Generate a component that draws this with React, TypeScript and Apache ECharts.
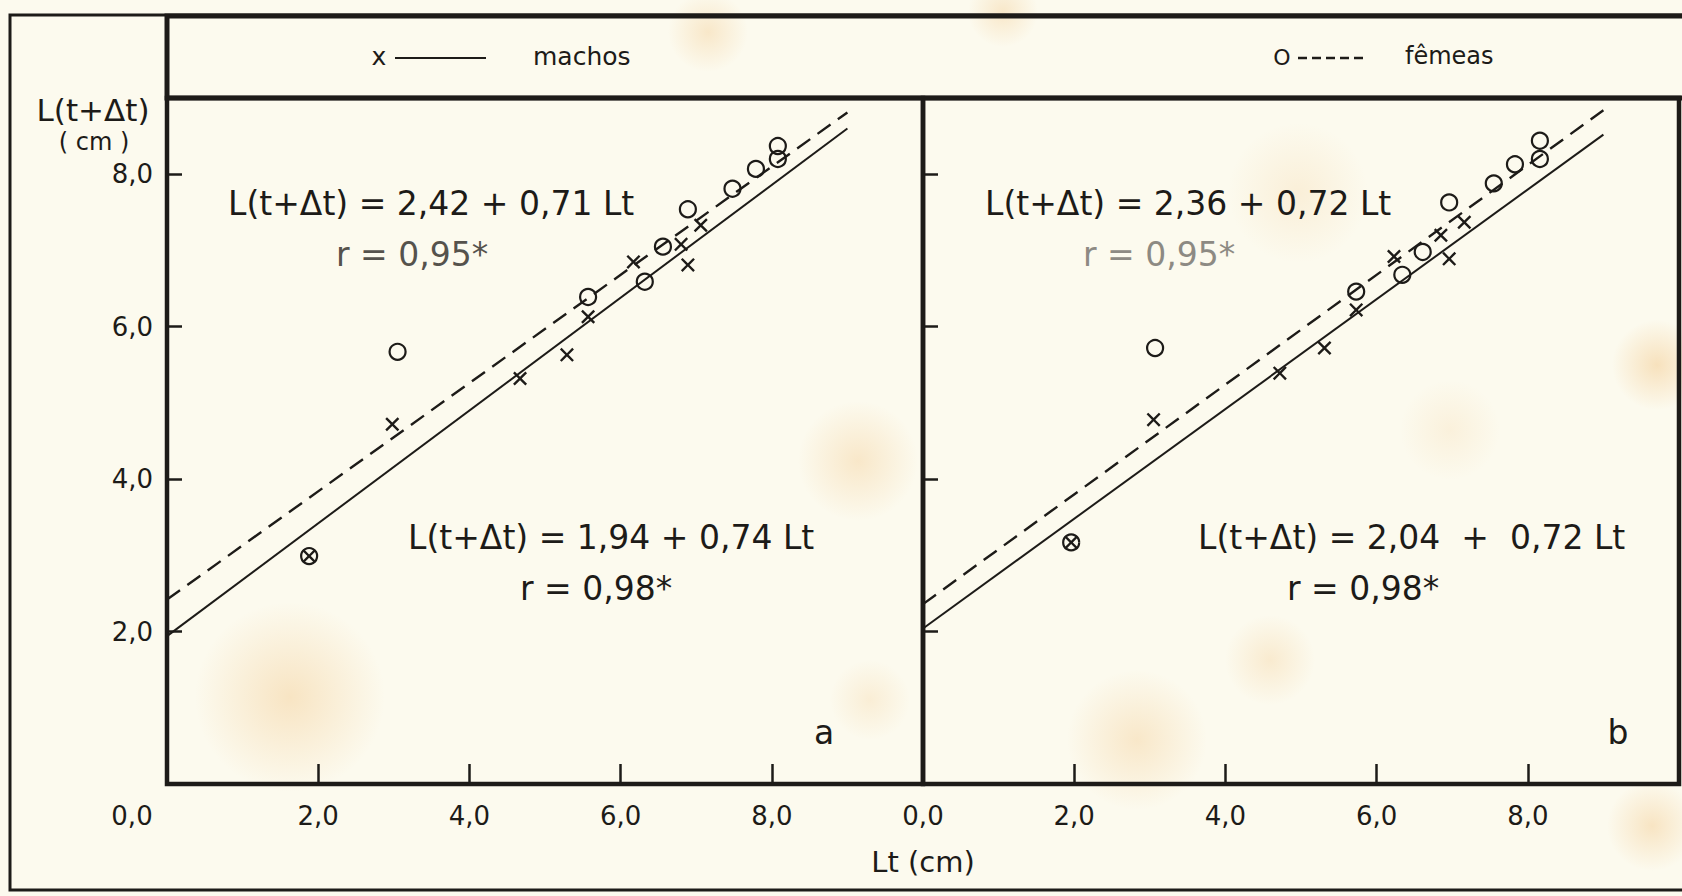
import { useEffect, useRef } from 'react';
import * as echarts from 'echarts';

// ---- data ----
const xTickValues = [0, 2, 4, 6, 8];
const yTickValues = [2, 4, 6, 8];

// panel a
const aMachosLt = [1.88, 2.98, 4.67, 5.29, 5.57, 6.17, 6.8, 6.89, 7.06];
const aMachosL = [2.99, 4.72, 5.32, 5.63, 6.13, 6.85, 7.08, 6.81, 7.33];
const aFemeasLt = [1.88, 3.05, 5.57, 6.32, 6.56, 6.89, 7.48, 7.79, 8.08, 8.08];
const aFemeasL = [2.99, 5.67, 6.39, 6.59, 7.05, 7.54, 7.81, 8.07, 8.2, 8.37];
// panel b
const bMachosLt = [1.96, 3.05, 4.72, 5.31, 5.73, 6.23, 6.85, 6.96, 7.16];
const bMachosL = [3.17, 4.78, 5.39, 5.72, 6.22, 6.92, 7.2, 6.89, 7.37];
const bFemeasLt = [1.96, 3.07, 5.73, 6.34, 6.61, 6.96, 7.55, 7.83, 8.16, 8.16];
const bFemeasL = [3.17, 5.72, 6.46, 6.68, 6.98, 7.63, 7.88, 8.13, 8.2, 8.44];

// regression lines [intercept, slope]
const fitAMachos = [1.94, 0.74];
const fitAFemeas = [2.42, 0.71];
const fitBMachos = [2.04, 0.72];
const fitBFemeas = [2.36, 0.72];
const fitLtRange = [0, 9];
const rAMachos = 0.98;
const rAFemeas = 0.95;
const rBMachos = 0.98;
const rBFemeas = 0.95;

// ---- styling ----
const INK = '#1d1b18';
const FONT = '"DejaVu Sans", sans-serif';
const BG = '#fcfaee';

const fmt1 = (v: number) => v.toFixed(1).replace('.', ',');
const fmt2 = (v: number) => v.toFixed(2).replace('.', ',');
const pairs = (xs: number[], ys: number[]) => xs.map((x, i) => [x, ys[i]]);
const fitLine = (f: number[]) => fitLtRange.map((x) => [x, f[0] + f[1] * x]);
const eqText = (f: number[], sep = ' ') => `L(t+Δt) = ${fmt2(f[0])}${sep}+${sep}${fmt2(f[1])} Lt`;
const rText = (r: number) => `r = ${fmt2(r)}*`;

const CROSS = 'path://M0,1.2L1.2,0L5,3.8L8.8,0L10,1.2L6.2,5L10,8.8L8.8,10L5,6.2L1.2,10L0,8.8L3.8,5Z';

function txt(text: string, x: number, y: number, size: number, align = 'left', color = INK) {
  return {
    type: 'text',
    x,
    y,
    z: 20,
    style: { text, fill: color, font: `${size}px ${FONT}`, textAlign: align, textVerticalAlign: 'middle' },
  };
}

function stain(cx: number, cy: number, r: number, a: number) {
  return {
    type: 'circle',
    z: -5,
    shape: { cx, cy, r },
    style: {
      fill: new echarts.graphic.RadialGradient(0.5, 0.5, 0.5, [
        { offset: 0, color: `rgba(240,188,115,${a})` },
        { offset: 1, color: 'rgba(240,188,115,0)' },
      ]),
    },
  };
}

export default function App() {
  const ref = useRef<HTMLDivElement>(null);
  useEffect(() => {
    document.body.style.margin = '0';
    const chart = echarts.init(ref.current!, null, { renderer: 'svg' });

    const xAxisFor = (gridIndex: number, leftPanel: boolean) => ({
      type: 'value',
      gridIndex,
      min: 0,
      max: 10,
      interval: 2,
      axisLine: { show: false },
      splitLine: { show: false },
      axisTick: { show: true, inside: true, length: 20, lineStyle: { color: INK, width: 2.5 } },
      axisLabel: {
        margin: 19,
        color: INK,
        fontFamily: FONT,
        fontSize: 26,
        formatter: (v: number) => {
          if (!xTickValues.includes(v)) return '';
          if (leftPanel && v === 0) return '{o|' + fmt1(v) + '}';
          return fmt1(v);
        },
        rich: { o: { color: INK, fontFamily: FONT, fontSize: 26, padding: [0, 70, 0, 0] } },
      },
    });
    const yAxisFor = (gridIndex: number, labels: boolean) => ({
      type: 'value',
      gridIndex,
      min: 0,
      max: 9,
      interval: 2,
      axisLine: { show: false },
      splitLine: { show: false },
      axisTick: { show: true, inside: true, length: 15, lineStyle: { color: INK, width: 2.5 } },
      axisLabel: {
        show: labels,
        margin: 14,
        color: INK,
        fontFamily: FONT,
        fontSize: 26,
        formatter: (v: number) => (yTickValues.includes(v) ? fmt1(v) : ''),
      },
    });

    const machos = (name: string, xi: number, data: number[][]) => ({
      name,
      type: 'scatter',
      xAxisIndex: xi,
      yAxisIndex: xi,
      symbol: CROSS,
      symbolSize: 14,
      itemStyle: { color: INK, opacity: 1 },
      data,
      z: 5,
    });
    const femeas = (name: string, xi: number, data: number[][]) => ({
      name,
      type: 'scatter',
      xAxisIndex: xi,
      yAxisIndex: xi,
      symbol: 'circle',
      symbolSize: 16,
      itemStyle: { color: 'rgba(0,0,0,0)', borderColor: INK, borderWidth: 2.2, opacity: 1 },
      data,
      z: 5,
    });
    const line = (name: string, xi: number, f: number[], dashed: boolean) => ({
      name,
      type: 'line',
      xAxisIndex: xi,
      yAxisIndex: xi,
      showSymbol: false,
      symbol: 'none',
      data: fitLine(f),
      lineStyle: { color: INK, width: dashed ? 2.4 : 2, type: dashed ? [16, 9] : 'solid' },
      z: 3,
    });

    const option = {
      animation: false,
      backgroundColor: BG,
      grid: [
        { left: 167, top: 98, width: 756, height: 686, show: true, borderColor: INK, borderWidth: 4.5, backgroundColor: 'rgba(0,0,0,0)' },
        { left: 923, top: 98, width: 760, height: 686, show: true, borderColor: INK, borderWidth: 4.5, backgroundColor: 'rgba(0,0,0,0)' },
      ],
      xAxis: [xAxisFor(0, true), xAxisFor(1, false)],
      yAxis: [yAxisFor(0, true), yAxisFor(1, false)],
      series: [
        line('machos a', 0, fitAMachos, false),
        line('fêmeas a', 0, fitAFemeas, true),
        machos('machos', 0, pairs(aMachosLt, aMachosL)),
        femeas('fêmeas', 0, pairs(aFemeasLt, aFemeasL)),
        line('machos b', 1, fitBMachos, false),
        line('fêmeas b', 1, fitBFemeas, true),
        machos('machos', 1, pairs(bMachosLt, bMachosL)),
        femeas('fêmeas', 1, pairs(bFemeasLt, bFemeasL)),
      ],
      graphic: [
        stain(290, 697, 95, 0.35),
        stain(858, 461, 60, 0.3),
        stain(1137, 740, 70, 0.3),
        stain(1270, 660, 45, 0.25),
        stain(1657, 365, 45, 0.4),
        stain(1652, 826, 45, 0.35),
        stain(1298, 193, 70, 0.18),
        stain(708, 32, 40, 0.3),
        stain(1003, 12, 35, 0.3),
        stain(870, 700, 40, 0.2),
        stain(1450, 430, 50, 0.15),
        // frames
        { type: 'rect', z: 15, shape: { x: 10, y: 15, width: 1700, height: 875 }, style: { fill: 'none', stroke: INK, lineWidth: 3 } },
        { type: 'rect', z: 15, shape: { x: 167, y: 16, width: 1600, height: 82 }, style: { fill: 'none', stroke: INK, lineWidth: 5 } },
        // legend
        txt('x', 379, 56, 25, 'center'),
        { type: 'line', z: 20, shape: { x1: 395, y1: 58, x2: 486, y2: 58 }, style: { stroke: INK, lineWidth: 2 } },
        txt('machos', 533, 56, 25),
        txt('O', 1282, 57, 22, 'center'),
        { type: 'line', z: 20, shape: { x1: 1298, y1: 58, x2: 1368, y2: 58 }, style: { stroke: INK, lineWidth: 2.5, lineDash: [9, 5] } },
        txt('fêmeas', 1405, 56, 24),
        // axis titles
        txt('L(t+Δt)', 93, 110, 31, 'center'),
        txt('( cm )', 94, 142, 24, 'center'),
        txt('Lt (cm)', 923, 862, 29, 'center'),
        // annotations panel a
        txt(eqText(fitAFemeas), 228, 203, 33),
        txt(rText(rAFemeas), 336, 254, 33, 'left', '#55524c'),
        txt(eqText(fitAMachos), 408, 537, 33),
        txt(rText(rAMachos), 520, 588, 33),
        txt('a', 824, 732, 33, 'center'),
        // annotations panel b
        txt(eqText(fitBFemeas), 985, 203, 33),
        txt(rText(rBFemeas), 1083, 254, 33, 'left', '#8d8a83'),
        txt(eqText(fitBMachos, '  '), 1198, 537, 33),
        txt(rText(rBMachos), 1287, 588, 33),
        txt('b', 1618, 732, 33, 'center'),
      ],
    };
    chart.setOption(option as any);
    return () => chart.dispose();
  }, []);
  return <div ref={ref} style={{ width: 1682, height: 896 }} />;
}
